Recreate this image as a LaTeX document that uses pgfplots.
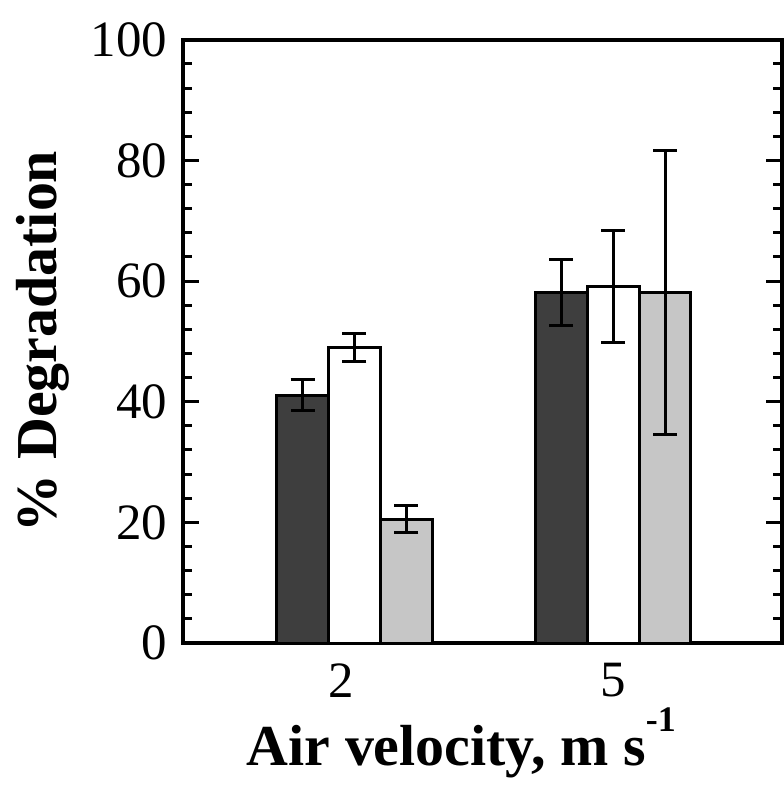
\documentclass[border=0pt]{standalone}
\usepackage{fontspec}
\setmainfont{Liberation Serif}
\usepackage{pgfplots}
\usepackage{pgfplotstable}
\pgfplotsset{compat=1.18}

\definecolor{darkbar}{HTML}{3E3E3E}
\definecolor{lightbar}{HTML}{C6C6C6}

% x = group (0 -> 2 m/s, 1 -> 5 m/s), y = % degradation, e = error
\pgfplotstableread{
x y e
0 41.1 2.6
1 58.1 5.5
}\darkdata
\pgfplotstableread{
x y e
0 49.0 2.35
1 59.1 9.3
}\whitedata
\pgfplotstableread{
x y e
0 20.5 2.25
1 58.1 23.5
}\graydata

\begin{document}
\begin{tikzpicture}
\begin{axis}[
scale only axis,
width=300pt,height=302pt,
ybar=0pt,bar width=26pt,
xmin=-0.664,xmax=1.653,
ymin=0,ymax=100,
xtick={-0.05,1},xticklabels={2,5},
xtick style={draw=none},
ytick={0,20,...,100},
minor y tick num=4,
ytick pos=both,
tick align=inside,
major tick length=8pt,minor tick length=4.5pt,
every tick/.style={line width=1.5pt,black},
axis line style={line width=2pt},
/pgf/number format/assume math mode=true,
tick label style={font=\fontsize{25.5}{25.5}\selectfont},
yticklabel style={inner sep=7.5pt},
xticklabel style={inner sep=10pt},
xlabel={\textbf{Air velocity, m s\raisebox{0.6em}{\fontsize{18}{18}\selectfont -1}}},
ylabel={\textbf{\% Degradation}},
label style={font=\fontsize{29}{29}\selectfont},
xlabel style={at={([yshift=-61.5pt]axis description cs:0.465,0)},anchor=base},
ylabel style={at={([xshift=-63pt]axis description cs:0,0.5)},anchor=base},
clip=false,
error bars/error bar style={line width=1.5pt,black},
error bars/error mark options={rotate=90,mark size=6pt,line width=1.5pt,black},
]
\addplot[fill=darkbar,draw=black,line width=1.5pt,
  error bars/.cd,y dir=both,y explicit]
  table[x=x,y=y,y error=e]{\darkdata};
\addplot[fill=white,draw=black,line width=1.5pt,
  error bars/.cd,y dir=both,y explicit]
  table[x=x,y=y,y error=e]{\whitedata};
\addplot[fill=lightbar,draw=black,line width=1.5pt,
  error bars/.cd,y dir=both,y explicit]
  table[x=x,y=y,y error=e]{\graydata};
\path (axis description cs:-0.305,-0.227) rectangle (axis description cs:1.003,1.066);
\end{axis}
\end{tikzpicture}
\end{document}
